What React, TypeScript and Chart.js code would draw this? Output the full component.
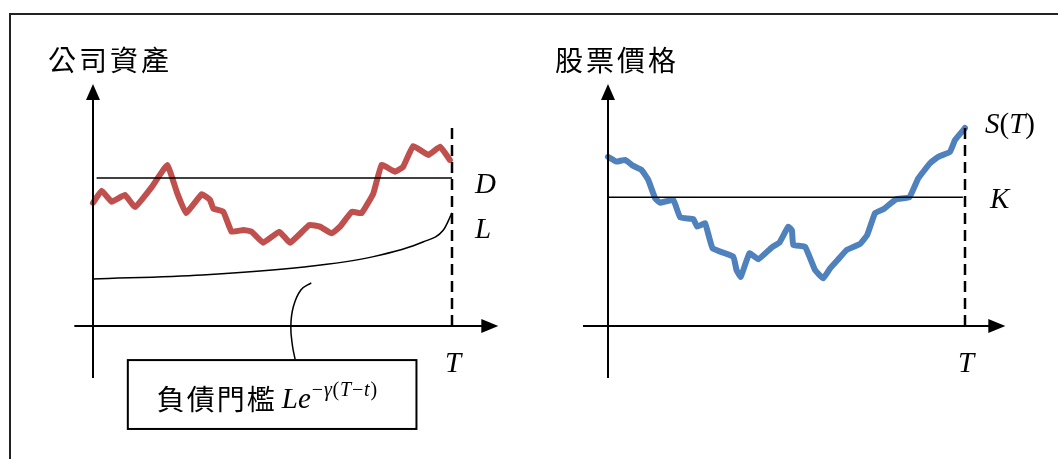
import React, { useEffect, useRef } from "react";
import { Chart, registerables } from "chart.js";

Chart.register(...registerables);

// ---------------- data ----------------
// Left panel: firm assets (time 0..T = 0..100, value units)
const assetTime = [0, 2.4, 5.2, 8.9, 11.7, 16.4, 20.7, 23.3, 25.9, 30.3, 32.6, 33.5, 36.3, 38.6, 41.9, 44.2, 47.4, 51.9, 54.9, 60.3, 63.2, 66.5, 68.8, 72.1, 74.8, 78.1, 80.4, 84.1, 86.4, 89.2, 93.4, 96.7, 99.4];
const assetValue = [51.3, 56.4, 51.8, 54.6, 49.6, 58.0, 67.1, 56.0, 47.1, 54.9, 52.5, 49.0, 47.6, 39.3, 40.0, 39.3, 34.7, 39.3, 34.7, 42.1, 41.4, 38.6, 41.4, 47.6, 47.0, 55.3, 67.1, 64.3, 66.4, 75.0, 71.3, 74.7, 69.2];
const debtLevel = 61.7; // D
const debtSpan = [1, 100];
const thresholdTime = [0, 30.5, 58.8, 77.8, 91.9, 97.6, 100];
const thresholdValue = [19.6, 21.3, 24.6, 28.8, 35.0, 40.0, 47.1]; // L e^{-γ(T-t)}
const calloutTime = [60.8, 57.9, 55.8, 55.1, 55.6, 56.3];
const calloutValue = [18.0, 15.0, 8.0, -0.3, -8.6, -13.9];

// Right panel: stock price
const priceTime = [0, 2.4, 4.8, 7.1, 9.4, 11.3, 13.2, 14.6, 18.3, 20.2, 23.9, 25.0, 27.2, 29.3, 35.1, 36.0, 37.2, 39.6, 42.1, 45.9, 48.0, 50.5, 51.5, 51.9, 55.2, 58.0, 60.3, 62.2, 64.5, 66.9, 70.6, 72.6, 74.8, 77.1, 80.7, 84.4, 86.9, 90.2, 92.5, 95.8, 97.2, 100];
const priceValue = [70.5, 68.5, 69.2, 66.7, 65.0, 60.8, 53.2, 51.4, 52.5, 45.3, 44.5, 41.4, 42.8, 32.4, 28.9, 23.3, 20.5, 30.3, 27.8, 32.8, 34.7, 41.4, 40.0, 33.8, 33.0, 23.3, 19.9, 24.0, 27.8, 31.7, 34.2, 37.9, 47.0, 48.6, 52.8, 53.6, 61.5, 67.8, 70.5, 72.6, 77.5, 82.5];
const strikeLevel = 53.6; // K
const strikeSpan = [0, 99.4];

const maturity = 100; // T
const maturityTop = 82.5;

// Text
const leftTitle = "公司資產";
const rightTitle = "股票價格";
const boxTitle = "負債門檻";

// ---------------- helpers ----------------
const SERIF = "'Liberation Serif', 'Times New Roman', serif";
const CJK = "'Noto Sans CJK TC', 'Noto Sans CJK SC', sans-serif";

type Seg = [string, boolean];

function drawRich(ctx: CanvasRenderingContext2D, x: number, y: number, segs: Seg[], size: number, align: "left" | "center" = "left", spacing = 0) {
  ctx.save();
  ctx.textBaseline = "alphabetic";
  ctx.textAlign = "left";
  ctx.fillStyle = "#000";
  let total = 0;
  for (const [t, it] of segs) {
    ctx.font = `${it ? "italic " : ""}${size}px ${SERIF}`;
    total += ctx.measureText(t).width + spacing;
  }
  let cx = align === "center" ? x - total / 2 : x;
  for (const [t, it] of segs) {
    ctx.font = `${it ? "italic " : ""}${size}px ${SERIF}`;
    ctx.fillText(t, cx, y);
    cx += ctx.measureText(t).width + spacing;
  }
  ctx.restore();
  return cx;
}

function drawCJK(ctx: CanvasRenderingContext2D, x: number, y: number, text: string, size: number, spacing: number) {
  ctx.save();
  ctx.font = `${size}px ${CJK}`;
  ctx.fillStyle = "#000";
  ctx.textBaseline = "alphabetic";
  ctx.textAlign = "left";
  let cx = x;
  for (const ch of text) {
    ctx.fillText(ch, cx, y);
    cx += ctx.measureText(ch).width + spacing;
  }
  ctx.restore();
  return cx - spacing;
}

type Label = { segs: Seg[]; t: number; v: number; dx: number; dy: number; align?: "left" | "center" };

type PanelSpec = {
  title: string;
  titleDx: number;
  xAxisFrom: number;
  xAxisTip: number;
  yAxisFrom: number;
  yAxisTip: number;
  labels: Label[];
  box?: { t0: number; t1: number; v0: number; v1: number };
};

function diagramPlugin(spec: PanelSpec) {
  return {
    id: "diagram",
    afterDatasetsDraw(chart: any) {
      const ctx: CanvasRenderingContext2D = chart.ctx;
      const xs = chart.scales.x;
      const ys = chart.scales.y;
      const px = (t: number) => xs.getPixelForValue(t);
      const py = (v: number) => ys.getPixelForValue(v);
      const x0 = px(0);
      const y0 = py(0);
      ctx.save();
      ctx.strokeStyle = "#000";
      ctx.fillStyle = "#000";
      ctx.lineWidth = 2;
      // y axis
      const yTip = py(spec.yAxisTip);
      ctx.beginPath();
      ctx.moveTo(x0, py(spec.yAxisFrom));
      ctx.lineTo(x0, yTip + 10);
      ctx.stroke();
      ctx.beginPath();
      ctx.moveTo(x0, yTip);
      ctx.lineTo(x0 - 7, yTip + 16);
      ctx.lineTo(x0 + 7, yTip + 16);
      ctx.closePath();
      ctx.fill();
      // x axis
      const xTip = px(spec.xAxisTip);
      ctx.beginPath();
      ctx.moveTo(px(spec.xAxisFrom), y0);
      ctx.lineTo(xTip - 10, y0);
      ctx.stroke();
      ctx.beginPath();
      ctx.moveTo(xTip, y0);
      ctx.lineTo(xTip - 17, y0 - 7);
      ctx.lineTo(xTip - 17, y0 + 7);
      ctx.closePath();
      ctx.fill();
      ctx.restore();

      // title
      drawCJK(ctx, x0 + spec.titleDx, py(spec.yAxisTip) - 13, spec.title, 28, 3);

      // labels
      for (const l of spec.labels) {
        drawRich(ctx, px(l.t) + l.dx, py(l.v) + l.dy, l.segs, 29, l.align || "left");
      }

      // box
      if (spec.box) {
        const b = spec.box;
        const bx0 = px(b.t0), bx1 = px(b.t1), by0 = py(b.v0), by1 = py(b.v1);
        ctx.save();
        ctx.fillStyle = "#fff";
        ctx.fillRect(bx0, by0, bx1 - bx0, by1 - by0);
        ctx.strokeStyle = "#000";
        ctx.lineWidth = 2;
        ctx.strokeRect(bx0, by0, bx1 - bx0, by1 - by0);
        ctx.restore();
        const base = by0 + 50;
        let cx = drawCJK(ctx, bx0 + 29, base, boxTitle, 28, 2);
        cx = drawRich(ctx, cx + 7, base - 2, [["Le", true]], 29);
        drawRich(ctx, cx + 1, base - 14, [["\u2212", false], ["\u03b3", true], ["(", false], ["T", true], ["\u2212", false], ["t", true], [")", false]], 20, "left", 0.8);
      }
    },
  };
}

function toPoints(ts: number[], vs: number[]) {
  return ts.map((t, i) => ({ x: t, y: vs[i] }));
}

const thin = (data: any[], extra: any = {}) => ({
  data,
  borderColor: "#000",
  borderWidth: 1.5,
  pointRadius: 0,
  fill: false,
  clip: false,
  tension: 0,
  ...extra,
});

function baseOptions(pad: { left: number; right: number; top: number; bottom: number }) {
  return {
    responsive: false,
    animation: false as const,
    devicePixelRatio: 1,
    layout: { padding: pad },
    plugins: { legend: { display: false }, tooltip: { enabled: false }, title: { display: false } },
    events: [],
    scales: {
      x: { type: "linear" as const, min: 0, max: 100, display: false },
      y: { type: "linear" as const, min: 0, max: 100, display: false },
    },
  };
}

function Panel(props: { left: number; make: (c: HTMLCanvasElement) => Chart }) {
  const ref = useRef<HTMLCanvasElement | null>(null);
  useEffect(() => {
    if (!ref.current) return;
    const ch = props.make(ref.current);
    return () => ch.destroy();
  }, []);
  return (
    <canvas
      ref={ref}
      width={529}
      height={459}
      style={{ position: "absolute", left: props.left, top: 0, width: 529, height: 459 }}
    />
  );
}

function makeLeft(canvas: HTMLCanvasElement) {
  const spec: PanelSpec = {
    title: leftTitle,
    titleDx: -45,
    xAxisFrom: -5.2,
    xAxisTip: 112.9,
    yAxisFrom: -21.7,
    yAxisTip: 100.8,
    labels: [
      { segs: [["D", true]], t: maturity, v: debtLevel, dx: 23, dy: 15 },
      { segs: [["L", true]], t: maturity, v: thresholdValue[thresholdValue.length - 1], dx: 23, dy: 25 },
      { segs: [["T", true]], t: maturity, v: 0, dx: 1, dy: 46, align: "center" },
    ],
    box: { t0: 9.7, t1: 90.1, v0: -14.2, v1: -42.9 },
  };
  return new Chart(canvas, {
    type: "line",
    data: {
      datasets: [
        thin([{ x: debtSpan[0], y: debtLevel }, { x: debtSpan[1], y: debtLevel }]),
        thin(toPoints(thresholdTime, thresholdValue), { cubicInterpolationMode: "monotone" }),
        thin(toPoints(calloutTime, calloutValue), { tension: 0.4 }),
        thin([{ x: maturity, y: 0 }, { x: maturity, y: maturityTop }], { borderWidth: 2.5, borderDash: [11, 6] }),
        {
          data: toPoints(assetTime, assetValue),
          borderColor: "#C0504D",
          borderWidth: 6,
          pointRadius: 0,
          fill: false,
          clip: false,
          tension: 0.1,
          borderJoinStyle: "round",
          borderCapStyle: "round",
        },
      ],
    } as any,
    options: baseOptions({ left: 93, right: 77, top: 86, bottom: 133 }) as any,
    plugins: [diagramPlugin(spec)],
  });
}

function makeRight(canvas: HTMLCanvasElement) {
  const spec: PanelSpec = {
    title: rightTitle,
    titleDx: -53,
    xAxisFrom: -7.0,
    xAxisTip: 111.3,
    yAxisFrom: -21.7,
    yAxisTip: 100.8,
    labels: [
      { segs: [["S", true], ["(", false], ["T", true], [")", false]], t: maturity, v: maturityTop, dx: 20, dy: 5 },
      { segs: [["K", true]], t: maturity, v: strikeLevel, dx: 25, dy: 11 },
      { segs: [["T", true]], t: maturity, v: 0, dx: 1, dy: 46, align: "center" },
    ],
  };
  return new Chart(canvas, {
    type: "line",
    data: {
      datasets: [
        thin([{ x: strikeSpan[0], y: strikeLevel }, { x: strikeSpan[1], y: strikeLevel }]),
        thin([{ x: maturity, y: 0 }, { x: maturity, y: maturityTop }], { borderWidth: 2.5, borderDash: [11, 6] }),
        {
          data: toPoints(priceTime, priceValue),
          borderColor: "#4F81BD",
          borderWidth: 6,
          pointRadius: 0,
          fill: false,
          clip: false,
          tension: 0.1,
          borderJoinStyle: "round",
          borderCapStyle: "round",
        },
      ],
    } as any,
    options: baseOptions({ left: 79, right: 93, top: 86, bottom: 133 }) as any,
    plugins: [diagramPlugin(spec)],
  });
}

export default function App() {
  return (
    <div style={{ position: "fixed", left: 0, top: 0, width: 1058, height: 459, overflow: "hidden", background: "#fff" }}>
      <div
        style={{
          position: "absolute",
          left: 9,
          top: 13,
          width: 1200,
          height: 600,
          borderTop: "2px solid #222",
          borderLeft: "2px solid #222",
        }}
      />
      <Panel left={0} make={makeLeft} />
      <Panel left={529} make={makeRight} />
    </div>
  );
}
